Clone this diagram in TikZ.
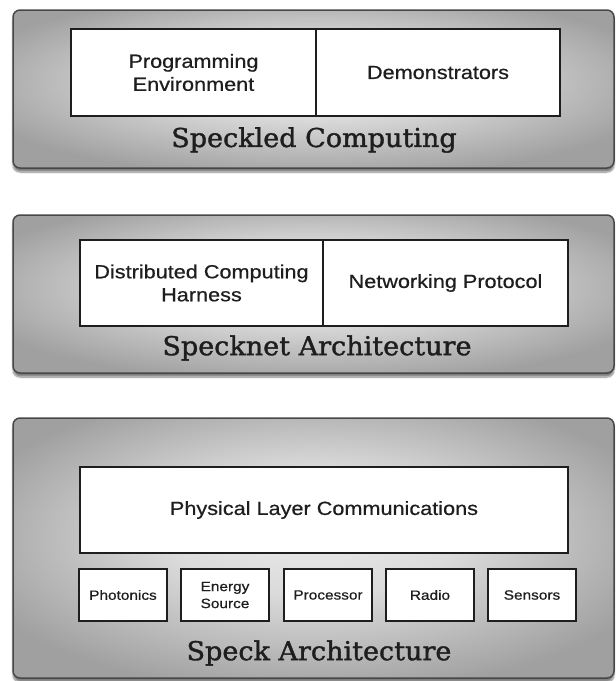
\documentclass[tikz,border=0pt]{standalone}
\usepackage{fontspec}
\usepackage{xcolor}
\usepackage{tikz}
\usetikzlibrary{shadows.blur}
\newfontfamily\cellfont[FakeStretch=1.14, FakeBold=0.6]{Liberation Sans}
\newfontfamily\titlefont[FakeStretch=1.04, FakeBold=1.4]{DejaVu Serif}
\definecolor{edge}{HTML}{474747}
\definecolor{ink}{HTML}{1E1E1E}
\definecolor{panelmid}{HTML}{EAEAEA}
\definecolor{panelrim}{HTML}{A0A0A0}
\pgfdeclareradialshading{panelglow}{\pgfpoint{0bp}{4bp}}{%
  color(0bp)=(panelmid); color(12bp)=(panelmid!80!panelrim);
  color(30bp)=(panelrim); color(50bp)=(panelrim)}
\tikzset{
  panel/.style={draw=edge, line width=1.5pt, rounded corners=7pt, shading=panelglow,
    blur shadow={shadow xshift=0pt, shadow yshift=-4pt, shadow blur steps=8, shadow opacity=50}},
  cell/.style={draw=ink, line width=1.2pt, fill=white, inner sep=0pt, align=center,
    text=ink, font=\cellfont\fontsize{19}{23}\selectfont},
  chip/.style={cell, minimum width=88pt, minimum height=52pt,
    font=\cellfont\fontsize{13.5}{17}\selectfont},
  title/.style={text=ink, font=\titlefont\fontsize{26}{28}\selectfont},
}
\begin{document}
\begin{tikzpicture}[x=1pt, y=-1pt]
  \useasboundingbox (0,0) rectangle (616,681);

  % Speckled Computing
  \node[panel, minimum width=601pt, minimum height=158pt] (comp) at (313.5,89) {};
  \node[cell, minimum width=245pt, minimum height=87pt] (prog) at (193.5,72.5) {Programming\\Environment};
  \node[cell, minimum width=244pt, minimum height=87pt] (demo) at (438,72.5) {Demonstrators};
  \node[title] (comptitle) at (314,140) {Speckled Computing};

  % Specknet Architecture
  \node[panel, minimum width=601pt, minimum height=158pt] (net) at (313.5,294) {};
  \node[cell, minimum width=243pt, minimum height=86pt] (harn) at (201.5,283) {Distributed Computing\\Harness};
  \node[cell, minimum width=245pt, minimum height=86pt] (prot) at (445.5,283) {Networking Protocol};
  \node[title] (nettitle) at (317,348) {Specknet Architecture};

  % Speck Architecture
  \node[panel, minimum width=601pt, minimum height=260pt] (speck) at (313.5,548) {};
  \node[cell, minimum width=488pt, minimum height=86pt] (phys) at (324,510) {Physical Layer Communications};
  \foreach \name/\cx/\txt in {phot/123/Photonics, ener/225/{Energy\\Source},
      proc/328/Processor, radio/430/Radio, sens/532/Sensors}
    \node[chip] (\name) at (\cx,595) {\txt};
  \node[title] (specktitle) at (319,653) {Speck Architecture};
\end{tikzpicture}
\end{document}
